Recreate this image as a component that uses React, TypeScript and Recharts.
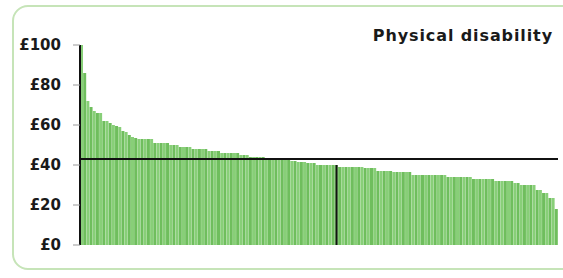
import { Bar, BarChart, Cell, ReferenceLine, XAxis, YAxis } from 'recharts';

// Weekly cost per council, sorted high to low
const costs = [
  100, 86, 72, 69, 67, 66, 66, 62, 62, 61, 60, 59.5, 59, 57, 56.5, 55, 54, 53.5,
  53, 53, 53, 53, 53, 51, 51, 51, 51, 51, 50, 50, 50, 49, 49, 49, 49,
  48, 48, 48, 48, 48, 47, 47, 47, 47, 46, 46, 46, 46, 46, 46, 45, 45, 45,
  44, 44, 44, 44, 44, 43, 43, 43, 43, 42.5, 42.5, 42.5, 42.5,
  42, 42, 41.5, 41.5, 41.5, 41, 41, 41, 40, 40, 40, 40, 40, 40, 40,
  39, 39, 39, 39, 39, 39, 39, 39, 38.5, 38.5, 38.5, 38.5, 37, 37, 37, 37, 37,
  36.5, 36.5, 36.5, 36.5, 36.5, 36.5, 35, 35, 35, 35, 35, 35, 35, 35, 35, 35, 35,
  34, 34, 34, 34, 34, 34, 34, 34, 33, 33, 33, 33, 33, 33, 33,
  32, 32, 32, 32, 32, 32, 31, 31, 30, 30, 30, 30, 30, 27.5, 27.5, 26, 26, 23.5, 23.5, 18,
];
const councils = costs.map((_, i) => `C${i + 1}`);
const yTicks = [0, 20, 40, 60, 80, 100];
const averageCost = 43;
const highlightIndex = 80;

const data = councils.map((name, i) => ({ name, cost: costs[i] }));

const App = () => {
  const font = '"DejaVu Sans", Verdana, sans-serif';
  return (
    <div style={{ position: 'absolute', left: 0, top: 0, width: 563, height: 278, background: '#fff', overflow: 'hidden' }}>
      <div
        style={{
          position: 'absolute',
          left: 12,
          top: 5,
          width: 570,
          height: 265,
          border: '2px solid #c6e4b8',
          borderRadius: 16,
          boxSizing: 'border-box',
        }}
      />
      <div
        style={{
          position: 'absolute',
          right: 10,
          top: 26,
          fontFamily: font,
          fontWeight: 'bold',
          fontSize: 16,
          color: '#1a1a1a',
          letterSpacing: 0.9,
        }}
      >
        Physical disability
      </div>
      <BarChart
        width={563}
        height={278}
        data={data}
        barCategoryGap={0}
        margin={{ top: 45, right: 5, bottom: 33, left: 0 }}
        style={{ position: 'absolute', left: 0, top: 0 }}
      >
        <XAxis
          dataKey="name"
          tick={false}
          tickLine={false}
          height={0}
          axisLine={{ stroke: '#111', strokeWidth: 2 }}
        />
        <YAxis
          width={80}
          domain={[0, 100]}
          ticks={yTicks}
          interval={0}
          tickFormatter={(v) => `£${v}`}
          tickSize={7}
          tickMargin={12}
          tickLine={{ stroke: '#999' }}
          axisLine={{ stroke: '#111', strokeWidth: 2 }}
          tick={{ fontFamily: font, fontWeight: 'bold', fontSize: 15, fill: '#1a1a1a' }}
        />
        <Bar dataKey="cost" isAnimationActive={false}>
          {data.map((d, i) => (
            <Cell key={d.name} fill={i % 2 === 0 ? '#88cf78' : '#6fbe5d'} />
          ))}
        </Bar>
        <ReferenceLine y={averageCost} stroke="#111" strokeWidth={2} />
        <ReferenceLine
          segment={[
            { x: councils[highlightIndex], y: 0 },
            { x: councils[highlightIndex], y: costs[highlightIndex] },
          ]}
          stroke="#111"
          strokeWidth={2}
        />
      </BarChart>
    </div>
  );
};

export default App;
